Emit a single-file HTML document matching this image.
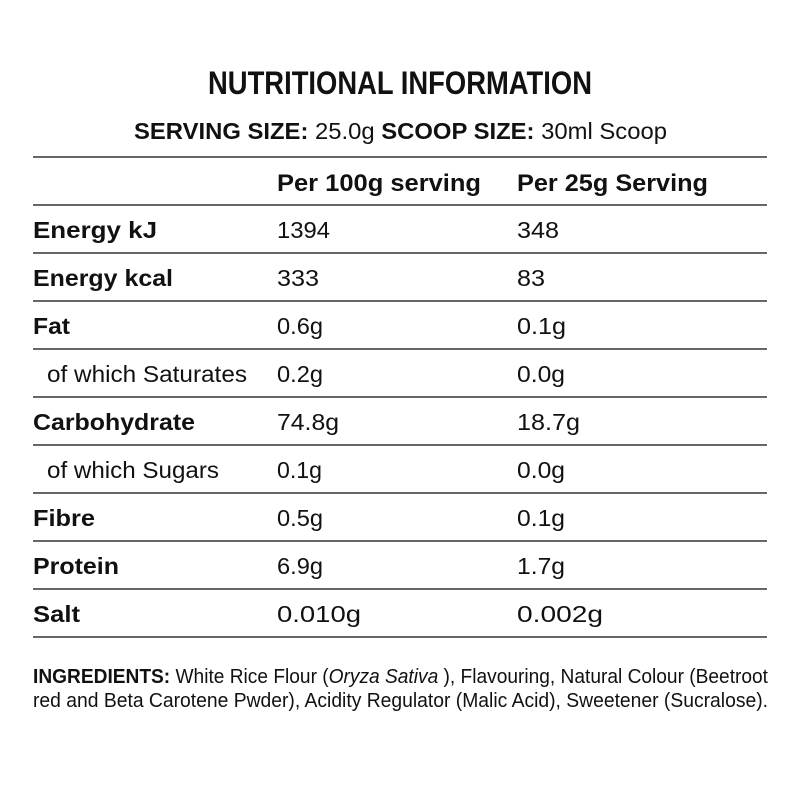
<!DOCTYPE html>
<html><head><meta charset="utf-8"><style>
html,body{margin:0;padding:0;background:#fff;width:800px;height:800px;overflow:hidden}
svg text{font-family:"Liberation Sans Narrow","Liberation Sans",sans-serif;fill:#111}
.b{font-weight:bold}
</style></head><body>
<svg width="800" height="800" viewBox="0 0 800 800" xmlns="http://www.w3.org/2000/svg">
<g stroke="#666" stroke-width="2">
<line x1="33" x2="767" y1="157" y2="157"/>
<line x1="33" x2="767" y1="205" y2="205"/>
<line x1="33" x2="767" y1="253" y2="253"/>
<line x1="33" x2="767" y1="301" y2="301"/>
<line x1="33" x2="767" y1="349" y2="349"/>
<line x1="33" x2="767" y1="397" y2="397"/>
<line x1="33" x2="767" y1="445" y2="445"/>
<line x1="33" x2="767" y1="493" y2="493"/>
<line x1="33" x2="767" y1="541" y2="541"/>
<line x1="33" x2="767" y1="589" y2="589"/>
<line x1="33" x2="767" y1="637" y2="637"/>
</g>
<text class="b" x="208" y="94" font-size="32" textLength="384" lengthAdjust="spacingAndGlyphs">NUTRITIONAL INFORMATION</text>
<text x="134" y="139" font-size="23" textLength="533" lengthAdjust="spacingAndGlyphs"><tspan class="b">SERVING SIZE:</tspan> 25.0g  <tspan class="b">SCOOP SIZE:</tspan> 30ml Scoop</text>
<text class="b" x="277" y="191" font-size="24" textLength="204" lengthAdjust="spacingAndGlyphs">Per 100g serving</text>
<text class="b" x="517" y="191" font-size="24" textLength="191" lengthAdjust="spacingAndGlyphs">Per 25g Serving</text>

<g font-size="23">
<text class="b" x="33" y="238" textLength="124" lengthAdjust="spacingAndGlyphs">Energy kJ</text>
<text x="277" y="238" textLength="53" lengthAdjust="spacingAndGlyphs">1394</text>
<text x="517" y="238" textLength="42" lengthAdjust="spacingAndGlyphs">348</text>

<text class="b" x="33" y="286" textLength="140" lengthAdjust="spacingAndGlyphs">Energy kcal</text>
<text x="277" y="286" textLength="42" lengthAdjust="spacingAndGlyphs">333</text>
<text x="517" y="286" textLength="28" lengthAdjust="spacingAndGlyphs">83</text>

<text class="b" x="33" y="334" textLength="37" lengthAdjust="spacingAndGlyphs">Fat</text>
<text x="277" y="334" textLength="46" lengthAdjust="spacingAndGlyphs">0.6g</text>
<text x="517" y="334" textLength="49" lengthAdjust="spacingAndGlyphs">0.1g</text>

<text x="47" y="382" textLength="200" lengthAdjust="spacingAndGlyphs">of which Saturates</text>
<text x="277" y="382" textLength="46" lengthAdjust="spacingAndGlyphs">0.2g</text>
<text x="517" y="382" textLength="48" lengthAdjust="spacingAndGlyphs">0.0g</text>

<text class="b" x="33" y="430" textLength="162" lengthAdjust="spacingAndGlyphs">Carbohydrate</text>
<text x="277" y="430" textLength="62" lengthAdjust="spacingAndGlyphs">74.8g</text>
<text x="517" y="430" textLength="63" lengthAdjust="spacingAndGlyphs">18.7g</text>

<text x="47" y="478" textLength="172" lengthAdjust="spacingAndGlyphs">of which Sugars</text>
<text x="277" y="478" textLength="45" lengthAdjust="spacingAndGlyphs">0.1g</text>
<text x="517" y="478" textLength="48" lengthAdjust="spacingAndGlyphs">0.0g</text>

<text class="b" x="33" y="526" textLength="62" lengthAdjust="spacingAndGlyphs">Fibre</text>
<text x="277" y="526" textLength="46" lengthAdjust="spacingAndGlyphs">0.5g</text>
<text x="517" y="526" textLength="48" lengthAdjust="spacingAndGlyphs">0.1g</text>

<text class="b" x="33" y="574" textLength="86" lengthAdjust="spacingAndGlyphs">Protein</text>
<text x="277" y="574" textLength="46" lengthAdjust="spacingAndGlyphs">6.9g</text>
<text x="517" y="574" textLength="48" lengthAdjust="spacingAndGlyphs">1.7g</text>

<text class="b" x="33" y="622" textLength="47" lengthAdjust="spacingAndGlyphs">Salt</text>
<text x="277" y="622" textLength="84" lengthAdjust="spacingAndGlyphs">0.010g</text>
<text x="517" y="622" textLength="86" lengthAdjust="spacingAndGlyphs">0.002g</text>
</g>

<text x="33" y="683" font-size="20" textLength="735" lengthAdjust="spacingAndGlyphs"><tspan class="b">INGREDIENTS:</tspan> White Rice Flour (<tspan font-style="italic">Oryza Sativa</tspan> ), Flavouring, Natural Colour (Beetroot</text>
<text x="33" y="707" font-size="20" textLength="735" lengthAdjust="spacingAndGlyphs">red and Beta Carotene Pwder), Acidity Regulator (Malic Acid), Sweetener (Sucralose).</text>
</svg>
</body></html>
